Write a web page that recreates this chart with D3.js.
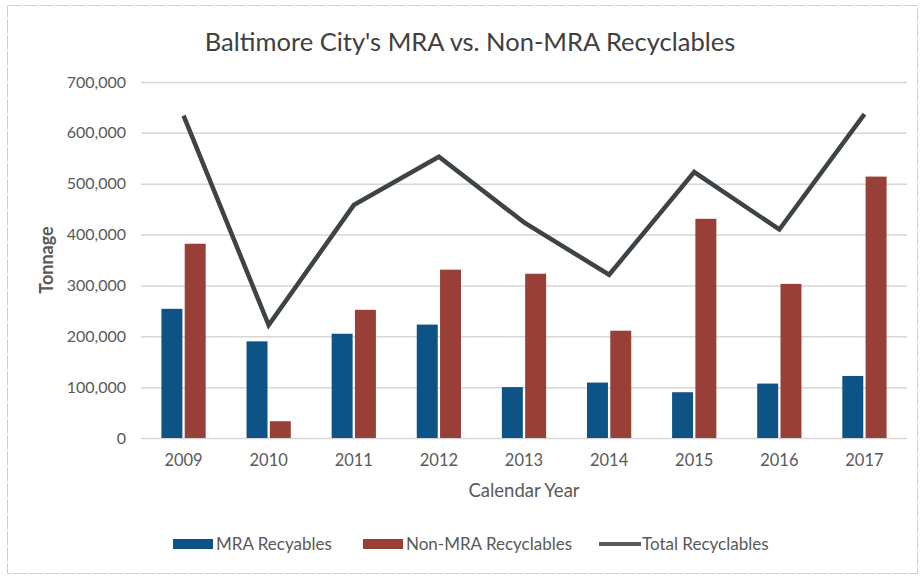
<!DOCTYPE html>
<html>
<head>
<meta charset="utf-8">
<script src="https://cdn.jsdelivr.net/npm/d3@7"></script>
<style>
  body { margin: 0; background: #fff; }
  svg { display: block; font-family: Lato, "Open Sans", sans-serif; }
</style>
</head>
<body>
<div id="chart"></div>
<script>
const years = ['2009', '2010', '2011', '2012', '2013', '2014', '2015', '2016', '2017'];
const mraValues = [254000, 190000, 205000, 223000, 100000, 109000, 90000, 107000, 122000];
const nonMraValues = [382000, 33000, 252000, 331000, 323000, 211000, 431000, 303000, 514000];
const totalValues = [634000, 222000, 458000, 553000, 424000, 321000, 523000, 410000, 637000];
const yTicks = [0, 100000, 200000, 300000, 400000, 500000, 600000, 700000];
const seriesNames = ['MRA Recyables', 'Non-MRA Recyclables', 'Total Recyclables'];
const colors = ['#0d5385', '#984038', '#3d4346'];

const width = 920;
const height = 576;
const plot = { left: 141, right: 907, top: 82, bottom: 438 };

const svg = d3.select('#chart').append('svg')
    .attr('width', width)
    .attr('height', height);

// outer frame
svg.append('rect')
    .attr('x', 7.5)
    .attr('y', 5.5)
    .attr('width', 910)
    .attr('height', 568)
    .attr('fill', '#fff')
    .attr('stroke', '#d0d0d0')
    .attr('stroke-dasharray', '14,2');

const x0 = d3.scaleBand(years, [plot.left, plot.right])
    .paddingInner(0.48)
    .paddingOuter(0.24);
const x1 = d3.scaleBand(['mra', 'non'], [0, x0.bandwidth()])
    .paddingInner(0.1);
const y = d3.scaleLinear([0, 700000], [plot.bottom, plot.top]);

// Title
svg.append('text')
    .text("Baltimore City's MRA vs. Non-MRA Recyclables")
    .attr('x', 470)
    .attr('y', 51)
    .attr('text-anchor', 'middle')
    .attr('fill', '#404040')
    .style('font-size', '25.5px');

// Gridlines + y labels
const yAxis = d3.axisLeft(y)
    .tickValues(yTicks)
    .tickSize(-(plot.right - plot.left))
    .tickPadding(15)
    .tickFormat(d3.format(','));

const yG = svg.append('g')
    .attr('transform', `translate(${plot.left}, 0)`)
    .call(yAxis);
yG.select('.domain').remove();
yG.selectAll('.tick line').attr('stroke', '#d6d6d6').attr('stroke-width', 1.5);
yG.selectAll('.tick text')
    .attr('fill', '#595959')
    .style('font-size', '16px')
    .style('font-family', 'Lato, sans-serif');

// x labels
const xAxis = d3.axisBottom(x0).tickSize(0).tickPadding(16);
const xG = svg.append('g')
    .attr('transform', `translate(0, ${plot.bottom})`)
    .call(xAxis);
xG.select('.domain').remove();
xG.selectAll('.tick text')
    .attr('fill', '#595959')
    .style('font-size', '16.5px')
    .style('font-family', 'Lato, sans-serif');

// Axis titles
svg.append('text')
    .text('Calendar Year')
    .attr('x', (plot.left + plot.right) / 2)
    .attr('y', 497)
    .attr('text-anchor', 'middle')
    .attr('fill', '#595959')
    .style('font-size', '18.5px');

svg.append('text')
    .text('Tonnage')
    .attr('transform', 'translate(53, 260) rotate(-90)')
    .attr('text-anchor', 'middle')
    .attr('fill', '#595959')
    .style('font-weight', 'bold')
    .style('font-size', '18px');

// Bars
const groups = svg.append('g').selectAll('g')
    .data(years)
    .join('g')
    .attr('transform', d => `translate(${x0(d)}, 0)`);

groups.append('rect')
    .attr('x', x1('mra'))
    .attr('width', x1.bandwidth())
    .attr('y', (d, i) => y(mraValues[i]))
    .attr('height', (d, i) => y(0) - y(mraValues[i]))
    .attr('fill', colors[0]);

groups.append('rect')
    .attr('x', x1('non'))
    .attr('width', x1.bandwidth())
    .attr('y', (d, i) => y(nonMraValues[i]))
    .attr('height', (d, i) => y(0) - y(nonMraValues[i]))
    .attr('fill', colors[1]);

// Total line
const line = d3.line()
    .x((d, i) => x0(years[i]) + x0.bandwidth() / 2)
    .y(d => y(d));

svg.append('path')
    .datum(totalValues)
    .attr('d', line)
    .attr('fill', 'none')
    .attr('stroke', colors[2])
    .attr('stroke-width', 4.5)
    .attr('stroke-linejoin', 'miter');

// Legend
const legendItems = [
  { name: seriesNames[0], x: 173, type: 'bar', color: colors[0] },
  { name: seriesNames[1], x: 363, type: 'bar', color: colors[1] },
  { name: seriesNames[2], x: 599, type: 'line', color: '#595959' },
];
const legend = svg.append('g').selectAll('g')
    .data(legendItems)
    .join('g')
    .attr('transform', d => `translate(${d.x}, 544)`);

legend.filter(d => d.type === 'bar').append('rect')
    .attr('x', 0)
    .attr('y', -5)
    .attr('width', 40)
    .attr('height', 10)
    .attr('fill', d => d.color);

legend.filter(d => d.type === 'line').append('line')
    .attr('x1', 0)
    .attr('x2', 42)
    .attr('y1', 0)
    .attr('y2', 0)
    .attr('stroke', d => d.color)
    .attr('stroke-width', 4);

legend.append('text')
    .text(d => d.name)
    .attr('x', 43)
    .attr('y', 6)
    .attr('fill', '#595959')
    .style('font-size', '17px');
</script>
</body>
</html>
